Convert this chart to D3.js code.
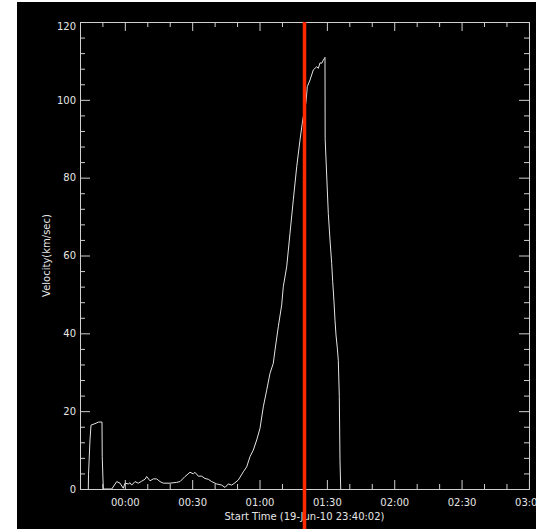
<!DOCTYPE html>
<html>
<head>
<meta charset="utf-8">
<script src="https://cdn.jsdelivr.net/npm/d3@7"></script>
<style>
  html, body { margin: 0; padding: 0; background: #ffffff; }
  svg { display: block; }
  text { font-family: "DejaVu Sans", sans-serif; }
</style>
</head>
<body>
<script>
// ---- data (minutes since start time, velocity km/sec) ----
const startTime = new Date(Date.UTC(2010, 5, 19, 23, 40, 2));
const minutes = [3.70, 3.80, 4.45, 4.90, 7.13, 8.15, 9.80, 9.90, 10.38,
  14.12, 16.35, 17.82, 19.29, 20.04, 21.51, 22.27, 23.03, 24.50, 25.97, 27.48, 28.95, 29.71,
  31.18, 32.65, 34.16, 35.63, 37.10, 40.09, 43.07, 44.54, 46.77, 49.00, 50.47, 51.22, 52.69,
  54.21, 55.68, 57.15, 58.66, 60.89, 63.12, 64.59, 66.06, 67.57, 69.04, 70.51, 72.74, 74.25,
  75.72, 77.19, 78.71, 80.18, 81.65, 83.16, 84.63, 86.10, 86.86, 88.33, 89.84, 90.56, 92.07,
  93.54, 95.01, 96.53, 98.00, 99.20, 100.67, 101.25, 102.45, 103.92, 105.43, 106.15, 106.90,
  107.66, 108.37, 109.13, 109.20, 110.60, 111.36, 112.11, 112.56, 113.14, 113.58, 114.03,
  114.61, 115.06, 115.50, 115.81, 116.13];
const velocity = [0, 3.8, 12.6, 16.4, 16.9, 17.2, 17.2, 8.3, 0,
  0, 1.9, 1.5, 0.2, 1.5, 1.3, 1.6, 1.0, 1.9, 1.5, 2.0, 2.5, 3.2,
  2.1, 2.6, 2.6, 1.9, 1.5, 1.5, 1.7, 1.9, 3.2, 4.3, 3.9, 4.3, 3.3,
  3.3, 2.7, 2.5, 1.9, 1.3, 1.0, 0.4, 1.3, 1.0, 1.6, 2.3, 4.4, 5.7,
  8.3, 10.0, 12.6, 15.6, 21.1, 25.4, 29.7, 32.3, 35.7, 41.7, 47.3, 52.0, 57.1,
  65.7, 74.3, 82.8, 89.7, 94.8, 99.5, 103.4, 105.1, 107.7, 108.5, 108.1, 109.5,
  109.4, 110.2, 110.9, 90.0, 70.8, 64.0, 58.0, 53.3, 48.1, 43.4, 39.6,
  36.2, 33.1, 23.7, 7.5, 0];
const markerMinute = 100;          // red vertical line (01:20)
const durationMinutes = 200;       // x range 23:40:02 -> 03:00:02
const yTicksMajor = [0, 20, 40, 60, 80, 100, 120];
const xTitle = "Start Time (19-Jun-10 23:40:02)";
const yTitle = "Velocity(km/sec)";

// ---- layout ----
const W = 536, H = 529;
const L = 80, R = 529, T = 22, B = 489;
const axisColor = "#cfcfcf", textColor = "#e6e6e6";

const svg = d3.select("body").append("svg").attr("width", W).attr("height", H);
svg.append("rect").attr("x", 17).attr("y", 2).attr("width", W - 17).attr("height", H - 2).attr("fill", "#000");

const toDate = m => new Date(startTime.getTime() + m * 60000);
const x = d3.scaleUtc().domain([startTime, toDate(durationMinutes)]).range([L, R]);
const y = d3.scaleLinear().domain([0, 120]).range([B, T]);

const data = minutes.map((m, i) => ({ t: toDate(m), v: velocity[i] }));

// data line
svg.append("path").datum(data)
  .attr("fill", "none").attr("stroke", "#e4e4e4").attr("stroke-width", 1)
  .attr("d", d3.line().x(d => x(d.t)).y(d => y(d.v)));

// ticks
const xMajor = x.ticks(d3.utcMinute.every(30));
const xMinor = x.ticks(d3.utcMinute.every(10)).filter(d => d.getUTCMinutes() % 30 !== 0);
const yMinor = d3.range(0, 121, 4).filter(v => v % 20 !== 0);

function styleAxis(g) {
  g.select(".domain").attr("stroke", axisColor);
  g.selectAll(".tick line").attr("stroke", axisColor);
  g.selectAll("text").attr("fill", textColor).attr("font-size", 10).attr("font-family", "DejaVu Sans, sans-serif");
}

// bottom
const gb = svg.append("g").attr("transform", `translate(0,${B})`)
  .call(d3.axisBottom(x).tickValues(xMajor).tickFormat(d3.utcFormat("%H:%M")).tickSizeInner(-9).tickSizeOuter(0).tickPadding(10));
styleAxis(gb);
svg.append("g").attr("transform", `translate(0,${B})`)
  .call(d3.axisBottom(x).tickValues(xMinor).tickFormat("").tickSizeInner(-5).tickSizeOuter(0))
  .call(styleAxis);
// top
svg.append("g").attr("transform", `translate(0,${T})`)
  .call(d3.axisTop(x).tickValues(xMajor).tickFormat("").tickSizeInner(-9).tickSizeOuter(0))
  .call(styleAxis);
svg.append("g").attr("transform", `translate(0,${T})`)
  .call(d3.axisTop(x).tickValues(xMinor).tickFormat("").tickSizeInner(-5).tickSizeOuter(0))
  .call(styleAxis);
// left
const gl = svg.append("g").attr("transform", `translate(${L},0)`)
  .call(d3.axisLeft(y).tickValues(yTicksMajor).tickFormat(d3.format("d")).tickSizeInner(-10).tickSizeOuter(0).tickPadding(4));
styleAxis(gl);
gl.selectAll(".tick text").attr("x", -4).filter(d => d === 120).attr("dy", "0.75em");
svg.append("g").attr("transform", `translate(${L},0)`)
  .call(d3.axisLeft(y).tickValues(yMinor).tickFormat("").tickSizeInner(-5).tickSizeOuter(0))
  .call(styleAxis);
// right
svg.append("g").attr("transform", `translate(${R},0)`)
  .call(d3.axisRight(y).tickValues(yTicksMajor).tickFormat("").tickSizeInner(-10).tickSizeOuter(0))
  .call(styleAxis);
svg.append("g").attr("transform", `translate(${R},0)`)
  .call(d3.axisRight(y).tickValues(yMinor).tickFormat("").tickSizeInner(-5).tickSizeOuter(0))
  .call(styleAxis);

// axis titles
svg.append("text").attr("x", (L + R) / 2).attr("y", 520).attr("text-anchor", "middle")
  .attr("fill", textColor).attr("font-size", 10).text(xTitle);
svg.append("text").attr("transform", `translate(49.5,${(T + B) / 2}) rotate(-90)`).attr("text-anchor", "middle")
  .attr("fill", textColor).attr("font-size", 10).text(yTitle);

// red marker line
svg.append("line")
  .attr("x1", x(toDate(markerMinute))).attr("x2", x(toDate(markerMinute)))
  .attr("y1", T).attr("y2", H)
  .attr("stroke", "#ff2a00").attr("stroke-width", 3.5);
</script>
</body>
</html>
